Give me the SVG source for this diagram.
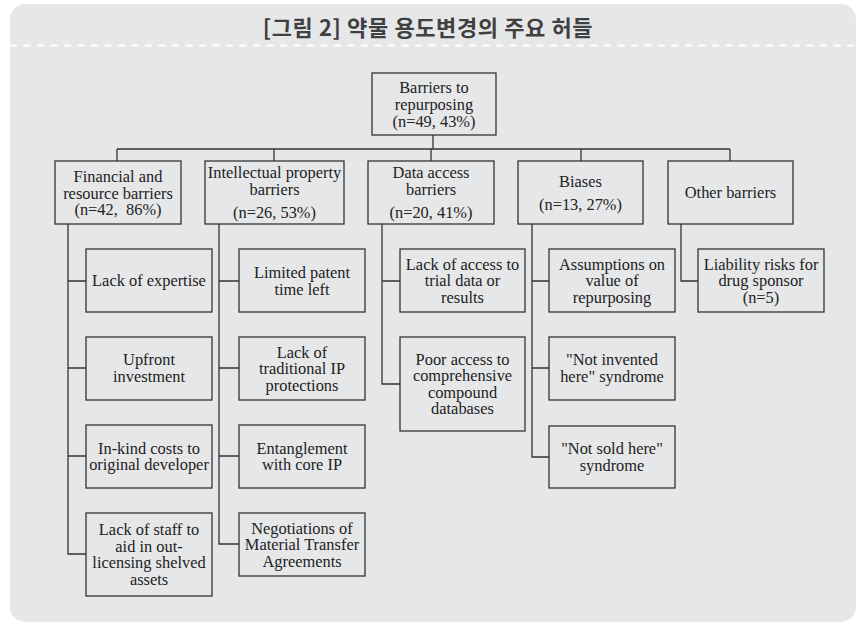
<svg xmlns="http://www.w3.org/2000/svg" width="857" height="625" viewBox="0 0 857 625">
<style>
.bg{fill:#e6e7e9}
.box{fill:none;stroke:#333;stroke-width:1.3}
.con{fill:none;stroke:#333;stroke-width:1.3}
.t{font-family:'Liberation Serif','Times New Roman',Times,serif;font-size:16.4px;fill:#222;text-anchor:middle}
.title{font-family:'Noto Sans CJK KR','Noto Sans',sans-serif;font-size:22px;font-weight:700;fill:#404040;text-anchor:middle;letter-spacing:0.6px}
</style>
<rect x="0" y="0" width="857" height="625" fill="#ffffff"/>
<rect class="bg" x="10" y="4" width="846" height="618" rx="15" ry="15"/>
<text class="title" x="428" y="36">[그림 2] 약물 용도변경의 주요 허들</text>
<line x1="10" y1="45.5" x2="856" y2="45.5" stroke="#ffffff" stroke-width="2" stroke-dasharray="7 6.5"/>

<g id="connectors">
<path class="con" d="M433,135V149M117,149H730M117,149V161M274,149V161M431,149V161M581,149V161M730,149V161"/>
<path class="con" d="M68,224V554H86M68,281H86M68,368H86M68,456H86"/>
<path class="con" d="M219,224V544H239M219,281H239M219,368H239M219,456H239"/>
<path class="con" d="M382,224V384H400M382,281H400"/>
<path class="con" d="M532,224V457H549M532,281H549M532,368H549"/>
<path class="con" d="M681,224V281H698"/>
</g>

<g id="root">
<rect class="box" x="372" y="73" width="124" height="62"/>
<text class="t"><tspan x="434" y="93">Barriers to</tspan><tspan x="434" y="110">repurposing</tspan><tspan x="434" y="127">(n=49, 43%)</tspan></text>
</g>

<g id="financial">
<rect class="box" x="55" y="161" width="126" height="63"/>
<text class="t" xml:space="preserve"><tspan x="118" y="182">Financial and</tspan><tspan x="118" y="199">resource barriers</tspan><tspan x="118" y="215">(n=42,  86%)</tspan></text>
</g>
<g id="ip">
<rect class="box" x="205" y="161" width="139" height="63"/>
<text class="t"><tspan x="274.5" y="178">Intellectual property</tspan><tspan x="274.5" y="195">barriers</tspan><tspan x="274.5" y="218">(n=26, 53%)</tspan></text>
</g>
<g id="data">
<rect class="box" x="368" y="161" width="126" height="63"/>
<text class="t"><tspan x="431" y="178">Data access</tspan><tspan x="431" y="195">barriers</tspan><tspan x="431" y="218">(n=20, 41%)</tspan></text>
</g>
<g id="biases">
<rect class="box" x="518" y="161" width="125" height="63"/>
<text class="t"><tspan x="580.5" y="187">Biases</tspan><tspan x="580.5" y="210">(n=13, 27%)</tspan></text>
</g>
<g id="other">
<rect class="box" x="668" y="161" width="125" height="63"/>
<text class="t" x="730.5" y="198">Other barriers</text>
</g>

<g id="f1">
<rect class="box" x="86" y="249" width="126" height="63"/>
<text class="t" x="149" y="286">Lack of expertise</text>
</g>
<g id="f2">
<rect class="box" x="86" y="337" width="126" height="63"/>
<text class="t"><tspan x="149" y="365">Upfront</tspan><tspan x="149" y="381.5">investment</tspan></text>
</g>
<g id="f3">
<rect class="box" x="86" y="425" width="126" height="63"/>
<text class="t"><tspan x="149" y="453.5">In-kind costs to</tspan><tspan x="149" y="470">original developer</tspan></text>
</g>
<g id="f4">
<rect class="box" x="86" y="513" width="126" height="83"/>
<text class="t"><tspan x="149" y="535.3">Lack of staff to</tspan><tspan x="149" y="551.8">aid in out-</tspan><tspan x="149" y="568.3">licensing shelved</tspan><tspan x="149" y="584.8">assets</tspan></text>
</g>

<g id="i1">
<rect class="box" x="239" y="249" width="126" height="63"/>
<text class="t"><tspan x="302" y="278">Limited patent</tspan><tspan x="302" y="294.5">time left</tspan></text>
</g>
<g id="i2">
<rect class="box" x="239" y="337" width="126" height="63"/>
<text class="t"><tspan x="302" y="357.5">Lack of</tspan><tspan x="302" y="374">traditional IP</tspan><tspan x="302" y="390.5">protections</tspan></text>
</g>
<g id="i3">
<rect class="box" x="239" y="425" width="126" height="63"/>
<text class="t"><tspan x="302" y="453.5">Entanglement</tspan><tspan x="302" y="470">with core IP</tspan></text>
</g>
<g id="i4">
<rect class="box" x="239" y="513" width="126" height="63"/>
<text class="t"><tspan x="302" y="533.5">Negotiations of</tspan><tspan x="302" y="550">Material Transfer</tspan><tspan x="302" y="566.5">Agreements</tspan></text>
</g>

<g id="d1">
<rect class="box" x="400" y="249" width="125" height="63"/>
<text class="t"><tspan x="462.5" y="269.5">Lack of access to</tspan><tspan x="462.5" y="286">trial data or</tspan><tspan x="462.5" y="302.5">results</tspan></text>
</g>
<g id="d2">
<rect class="box" x="400" y="337" width="125" height="94"/>
<text class="t"><tspan x="462.5" y="364.8">Poor access to</tspan><tspan x="462.5" y="381.3">comprehensive</tspan><tspan x="462.5" y="397.8">compound</tspan><tspan x="462.5" y="414.3">databases</tspan></text>
</g>

<g id="b1">
<rect class="box" x="549" y="249" width="126" height="63"/>
<text class="t"><tspan x="612" y="269.5">Assumptions on</tspan><tspan x="612" y="286">value of</tspan><tspan x="612" y="302.5">repurposing</tspan></text>
</g>
<g id="b2">
<rect class="box" x="549" y="337" width="126" height="63"/>
<text class="t"><tspan x="612" y="365">"Not invented</tspan><tspan x="612" y="381.5">here" syndrome</tspan></text>
</g>
<g id="b3">
<rect class="box" x="549" y="426" width="126" height="62"/>
<text class="t"><tspan x="612" y="454">"Not sold here"</tspan><tspan x="612" y="470.5">syndrome</tspan></text>
</g>

<g id="o1">
<rect class="box" x="698" y="249" width="126" height="63"/>
<text class="t"><tspan x="761" y="269.5">Liability risks for</tspan><tspan x="761" y="286">drug sponsor</tspan><tspan x="761" y="302.5">(n=5)</tspan></text>
</g>
</svg>
